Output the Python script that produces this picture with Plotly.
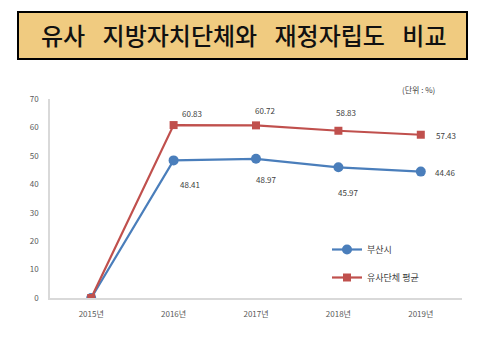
import plotly.graph_objects as go

categories = ["2015년", "2016년", "2017년", "2018년", "2019년"]
busan = [0, 48.41, 48.97, 45.97, 44.46]
similar_avg = [0, 60.83, 60.72, 58.83, 57.43]
busan_name = "부산시"
avg_name = "유사단체 평균"
y_ticks = [0, 10, 20, 30, 40, 50, 60, 70]

BLUE = "#4A7EBB"
RED = "#C0504D"
FONT = "Noto Sans CJK KR"

fig = go.Figure()
fig.add_trace(go.Scatter(
    x=categories, y=busan, name=busan_name, mode="lines+markers",
    line=dict(color=BLUE, width=2.2),
    marker=dict(symbol="circle", size=10, color=BLUE),
    legendgroup="a",
))
fig.add_trace(go.Scatter(
    x=categories, y=similar_avg, name=avg_name, mode="lines+markers",
    line=dict(color=RED, width=2.2),
    marker=dict(symbol="square", size=8, color=RED),
    legendgroup="b",
))

ann = []
last = len(categories) - 1
for i, c in enumerate(categories):
    if i == 0:
        continue
    if i == last:
        ann.append(dict(x=c, y=similar_avg[i], text=f"{similar_avg[i]:.2f}", xshift=25, yshift=-1))
        ann.append(dict(x=c, y=busan[i], text=f"{busan[i]:.2f}", xshift=25, yshift=-1))
    else:
        ann.append(dict(x=c, y=similar_avg[i], text=f"{similar_avg[i]:.2f}", xshift=[0, 18, 9, 8][i], yshift=[0, 12, 15, 18][i]))
        ann.append(dict(x=c, y=busan[i], text=f"{busan[i]:.2f}", xshift=[0, 16, 10, 10][i], yshift=[0, -24, -21, -25][i]))
annotations = []
for a in ann:
    a.update(xref="x", yref="y", showarrow=False,
             font=dict(family=FONT, size=8, color="#404040"))
    annotations.append(a)

# unit label
annotations.append(dict(xref="paper", yref="paper", x=(418 - 50) / 412, y=(298 - 90) / 199,
                        xanchor="center", yanchor="middle",
                        text="(단위 : %)", showarrow=False,
                        font=dict(family=FONT, size=8, color="#404040")))
# title
sp = "\u2002 "
title_text = sp.join(["유사", "지방자치단체와", "재정자립도", "비교"])
annotations.append(dict(xref="paper", yref="paper", x=(243 - 50) / 412, y=(298 - 35) / 199,
                        xanchor="center", yanchor="middle",
                        text=title_text, showarrow=False,
                        font=dict(family=FONT, size=24, color="#111111", weight=500)))

shapes = [dict(type="rect", xref="paper", yref="paper",
               x0=(18 - 50) / 412, x1=(467 - 50) / 412,
               y0=(298 - 59) / 199, y1=(298 - 12) / 199,
               fillcolor="#F0CB80", line=dict(color="black", width=2), layer="below")]

fig.update_layout(
    width=482, height=337,
    margin=dict(l=50, r=20, t=99, b=39),
    paper_bgcolor="white", plot_bgcolor="white",
    font=dict(family=FONT, size=8, color="#595959"),
    showlegend=True,
    legend=dict(x=(327 - 50) / 412, y=(298 - 235) / 199, xanchor="left", yanchor="top",
                bgcolor="rgba(0,0,0,0)", font=dict(family=FONT, size=9, color="#404040"),
                traceorder="grouped", tracegroupgap=9, itemwidth=30),
    annotations=annotations,
    shapes=shapes,
    xaxis=dict(type="category", range=[-0.5, 4.5], showgrid=False, zeroline=False,
               showline=True, linecolor="#D9D9D9", linewidth=1.5, ticks="",
               tickfont=dict(family=FONT, size=8, color="#595959"), ticklabelstandoff=8),
    yaxis=dict(range=[0, 70], tickvals=y_ticks, showgrid=False, zeroline=False,
               showline=True, linecolor="#D9D9D9", linewidth=1.5, ticks="",
               tickfont=dict(family=FONT, size=8, color="#595959"), ticklabelstandoff=8),
)

fig.write_html("out.html")
